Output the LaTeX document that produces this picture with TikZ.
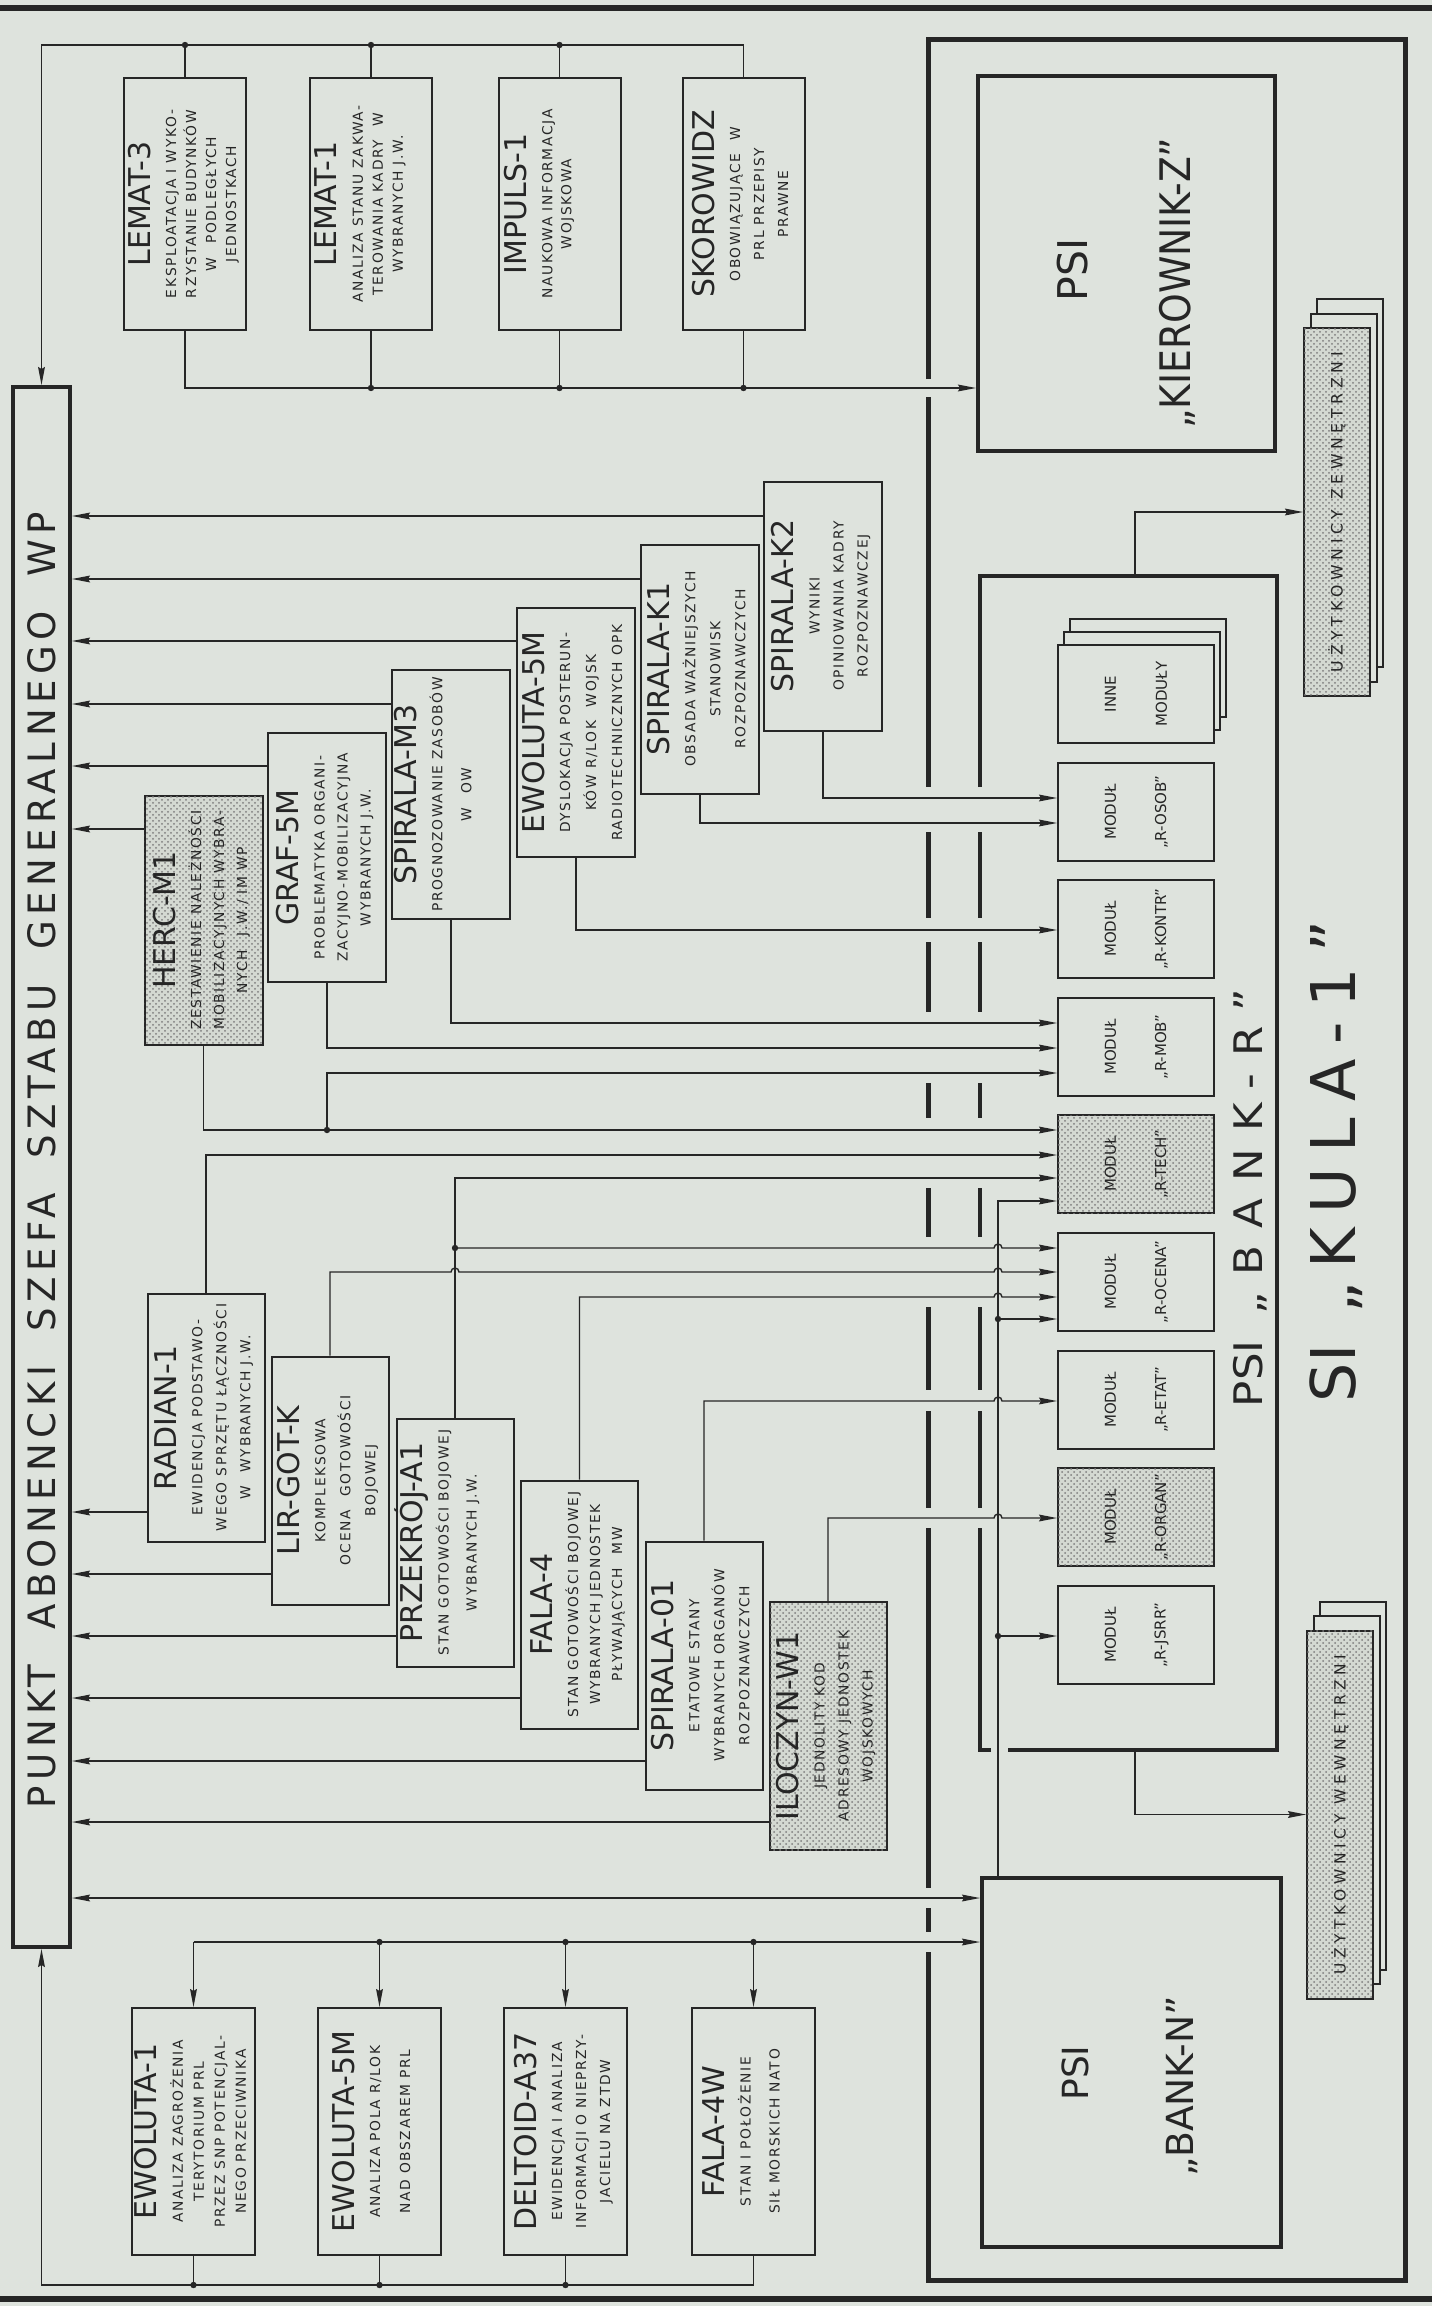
\documentclass[tikz,border=0pt]{standalone}
\usepackage{fontspec}
\usepackage{graphicx}
\setmainfont{DejaVu Sans}
\newfontfamily\ttlf{DejaVu Sans}
\newfontfamily\subf{DejaVu Sans}[LetterSpace=12]
\newfontfamily\spf{DejaVu Sans}[LetterSpace=15]
\usetikzlibrary{arrows.meta,patterns}
\definecolor{bg}{RGB}{222,227,221}
\definecolor{ink}{RGB}{38,38,38}
\definecolor{stip}{RGB}{212,217,210}
\newcommand\bxt[3][12pt]{{\subf\fontsize{6.9pt}{#1}\selectfont\begin{tabular}{@{}c@{}}{\ttlf\fontsize{15pt}{15pt}\selectfont #2}\\[\dimexpr 13pt-#1\relax]#3\end{tabular}}}
\newcommand\modl[3]{\node[lbl,mfnt] (#1-a) at ([xshift=-12.75pt]#1.center) {#2};\node[lbl,mfnt] (#1-b) at ([xshift=12.75pt]#1.center) {#3};}
\begin{document}
\begin{tikzpicture}[x=0.5pt,y=-0.5pt,
  conn/.style={draw=ink, line width=0.7pt},
  arr/.style={conn, -{Stealth[length=9pt,width=3.4pt,inset=1pt]}},
  darr/.style={conn, {Stealth[length=9pt,width=3.4pt,inset=1pt]}-{Stealth[length=9pt,width=3.4pt,inset=1pt]}},
  bx/.style={draw=ink, line width=1pt, fill=bg, inner sep=0pt},
  sbx/.style={bx, fill=stip, postaction={pattern=crosshatch dots, pattern color=ink!60}},
  bbx/.style={bx, line width=2pt},
  lbl/.style={rotate=90, inner sep=0pt, text=ink},
  mfnt/.style={font=\ttlf\fontsize{7.5pt}{7.5pt}\selectfont},
  edge/.style={draw=ink, line width=#1},
  tbx/.style={bx, minimum width=61pt, minimum height=126pt},
  abx/.style={bx, minimum width=59pt, minimum height=124.5pt},
  bbbx/.style={bx, minimum width=58.5pt, minimum height=124pt},
  lbx/.style={bx, minimum width=61.5pt, minimum height=123.5pt},
  mbx/.style={bx, minimum width=78pt, minimum height=49pt},
  ubx/.style={bx, minimum width=33pt, minimum height=184pt}
]
\useasboundingbox (0,0) rectangle (1432,2306);
\fill[bg] (0,0) rectangle (1432,2306);
% page borders
\draw[edge=3pt] (0,8) -- (1432,8);
\draw[edge=3pt] (0,2299) -- (1432,2299);

% frame SI KULA-1 (left edge broken where lines pass)
\draw[edge=2.5pt, line join=miter] (928,379) -- (928,40) -- (1405,40) -- (1405,2280) -- (928,2280) -- (928,1952);
\foreach \a/\b in {397/787, 832/918, 942/1012, 1083/1118, 1188/1237, 1307/1390, 1411/1508, 1528/1888, 1908/1932}
  \draw[edge=2.5pt] (928,\a) -- (928,\b);

% BANK-R box
\node[inner sep=0pt, minimum width=148.5pt, minimum height=587pt] (bankr) at (1128.5,1163) {};
\draw[edge=2pt, line join=miter] (980,787) -- (980,576) -- (1277,576) -- (1277,1750) -- (1008,1750);
\draw[edge=2pt, line join=miter] (991,1750) -- (980,1750) -- (980,1528);
\foreach \a/\b in {832/918, 942/1012, 1083/1118, 1188/1237, 1307/1390, 1411/1508}
  \draw[edge=2pt] (980,\a) -- (980,\b);

% PUNKT box
\node[bbx, minimum width=28.5pt, minimum height=780pt] (punkt) at (41.5,1167) {};
\node[lbl] (punkt-t) at (42,1160) {\resizebox{648pt}{14pt}{\spf\fontsize{19pt}{19pt}\selectfont PUNKT~~ABONENCKI~~SZEFA~~SZTABU~~GENERALNEGO~~WP}};

% big PSI boxes
\node[bbx, minimum width=148.5pt, minimum height=187.5pt] (kier) at (1126.5,263.5) {};
\node[lbl] (kier-a) at (1073,270) {\fontsize{20.5pt}{20.5pt}\selectfont PSI};
\node[lbl] (kier-b) at (1177,283) {\resizebox{145pt}{15.6pt}{\fontsize{20pt}{20pt}\selectfont „KIEROWNIK-Z”}};
\node[bbx, minimum width=149.5pt, minimum height=184.5pt] (bankn) at (1131.5,2062.5) {};
\node[lbl] (bankn-a) at (1075,2073) {\fontsize{18pt}{18pt}\selectfont PSI};
\node[lbl] (bankn-b) at (1182,2086) {\resizebox{90pt}{13.6pt}{\fontsize{18pt}{18pt}\selectfont „BANK-N”}};
\node[lbl] (bankr-t) at (1250,1198) {\resizebox{209pt}{14.6pt}{\fontsize{19pt}{19pt}\selectfont PSI\hspace{0.6em}{\addfontfeature{LetterSpace=40}„BANK-R”}}};
\node[lbl] (kula-t) at (1336,1161) {\resizebox{241pt}{22.9pt}{\fontsize{30pt}{30pt}\selectfont SI\hspace{0.5em}{\addfontfeature{LetterSpace=25}„KULA-1”}}};

% modules
\node[mbx] (inne3) at (1148,668) {};
\node[mbx] (inne2) at (1142,681) {};
\node[mbx] (inne) at (1136,694) {};
\node[mbx] (rosob) at (1136,812) {};
\node[mbx] (rkontr) at (1136,929) {};
\node[mbx] (rmob) at (1136,1047) {};
\node[mbx, sbx] (rtech) at (1136,1164) {};
\node[mbx] (rocena) at (1136,1282) {};
\node[mbx] (retat) at (1136,1400) {};
\node[mbx, sbx] (rorgan) at (1136,1517) {};
\node[mbx] (rjsrr) at (1136,1635) {};
\modl{inne}{INNE}{MODUŁY}
\modl{rosob}{MODUŁ}{„R-OSOB”}
\modl{rkontr}{MODUŁ}{„R-KONTR”}
\modl{rmob}{MODUŁ}{„R-MOB”}
\modl{rtech}{MODUŁ}{„R-TECH”}
\modl{rocena}{MODUŁ}{„R-OCENA”}
\modl{retat}{MODUŁ}{„R-ETAT”}
\modl{rorgan}{MODUŁ}{„R-ORGAN”}
\modl{rjsrr}{MODUŁ}{„R-JSRR”}

% user stacks
\node[ubx] (zewn3) at (1350,483) {};
\node[ubx] (zewn2) at (1343.5,497.5) {};
\node[ubx, sbx] (zewn) at (1337,512) {};
\node[lbl] (zewn-t) at (zewn) {\resizebox{160pt}{!}{\fontsize{7.5pt}{7.5pt}\selectfont\addfontfeature{LetterSpace=30}UŻYTKOWNICY~ZEWNĘTRZNI}};
\node[ubx] (wewn3) at (1353,1785.5) {};
\node[ubx] (wewn2) at (1346.5,1800) {};
\node[ubx, sbx] (wewn) at (1340,1814.5) {};
\node[lbl] (wewn-t) at (wewn) {\resizebox{160pt}{!}{\fontsize{7.5pt}{7.5pt}\selectfont\addfontfeature{LetterSpace=30}UŻYTKOWNICY~WEWNĘTRZNI}};

% top group
\node[tbx] (lemat3) at (185,204) {};
\node[lbl] (lemat3-t) at (lemat3) {\bxt[10pt]{LEMAT-3}{EKSPLOATACJA I WYKO-\\RZYSTANIE BUDYNKÓW\\W\quad PODLEGŁYCH\\JEDNOSTKACH}};
\node[tbx] (lemat1) at (371,204) {};
\node[lbl] (lemat1-t) at ([xshift=-4.5pt]lemat1.center) {\bxt[10pt]{LEMAT-1}{ANALIZA STANU ZAKWA-\\TEROWANIA KADRY\quad W\\WYBRANYCH J.W.}};
\node[tbx] (impuls) at (559.5,204) {};
\node[lbl] (impuls-t) at ([xshift=-9.5pt]impuls.center) {\bxt[9.5pt]{IMPULS-1}{NAUKOWA INFORMACJA\\WOJSKOWA}};
\node[tbx] (skorow) at (743.5,204) {};
\node[lbl] (skorow-t) at (skorow) {\bxt[12pt]{SKOROWIDZ}{OBOWIĄZUJĄCE\quad W\\PRL PRZEPISY\\PRAWNE}};

% group A
\node[abx, sbx] (herc) at (203.5,920) {};
\node[lbl] (herc-t) at (herc) {\bxt[11.5pt]{HERC-M1}{ZESTAWIENIE NALEŻNOŚCI\\MOBILIZACYJNYCH WYBRA-\\NYCH\quad J.W./ IM WP}};
\node[abx] (graf) at (327,857.5) {};
\node[lbl] (graf-t) at (graf) {\bxt[11.5pt]{GRAF-5M}{PROBLEMATYKA ORGANI-\\ZACYJNO-MOBILIZACYJNA\\WYBRANYCH J.W.}};
\node[abx] (spm3) at (451,794.5) {};
\node[lbl] (spm3-t) at ([xshift=-7pt]spm3.center) {\bxt[14.5pt]{SPIRALA-M3}{PROGNOZOWANIE ZASOBÓW\\W\quad OW}};
\node[abx] (ewol5) at (576,732.5) {};
\node[lbl] (ewol5-t) at (ewol5) {\bxt[13pt]{EWOLUTA-5M}{DYSLOKACJA POSTERUN-\\KÓW R/LOK\quad WOJSK\\RADIOTECHNICZNYCH OPK}};
\node[abx] (spk1) at (700,669) {};
\node[lbl] (spk1-t) at (spk1) {\bxt[12.5pt]{SPIRALA-K1}{OBSADA WAŻNIEJSZYCH\\STANOWISK\\ROZPOZNAWCZYCH}};
\node[abx] (spk2) at (823,606) {};
\node[lbl] (spk2-t) at (spk2) {\bxt[12pt]{SPIRALA-K2}{WYNIKI\\OPINIOWANIA KADRY\\ROZPOZNAWCZEJ}};

% group B
\node[bbbx] (radian) at (206,1417.5) {};
\node[lbl] (radian-t) at (radian) {\bxt[12pt]{RADIAN-1}{EWIDENCJA PODSTAWO-\\WEGO SPRZĘTU ŁĄCZNOŚCI\\W\quad WYBRANYCH J.W.}};
\node[bbbx] (lirgot) at (330,1480.5) {};
\node[lbl] (lirgot-t) at (lirgot) {\bxt[12.5pt]{LIR-GOT-K}{KOMPLEKSOWA\\OCENA\quad GOTOWOŚCI\\BOJOWEJ}};
\node[bbbx] (przek) at (455,1542.5) {};
\node[lbl] (przek-t) at ([xshift=-7.5pt]przek.center) {\bxt[14pt]{PRZEKRÓJ-A1}{STAN GOTOWOŚCI BOJOWEJ\\WYBRANYCH J.W.}};
\node[bbbx] (fala4) at (579.5,1604.5) {};
\node[lbl] (fala4-t) at (fala4) {\bxt[11pt]{FALA-4}{STAN GOTOWOŚCI BOJOWEJ\\WYBRANYCH JEDNOSTEK\\PŁYWAJĄCYCH\quad MW}};
\node[bbbx] (spi01) at (704,1665.5) {};
\node[lbl] (spi01-t) at (spi01) {\bxt[12.5pt]{SPIRALA-01}{ETATOWE STANY\\WYBRANYCH ORGANÓW\\ROZPOZNAWCZYCH}};
\node[bbbx, sbx] (iloczyn) at (828,1726) {};
\node[lbl] (iloczyn-t) at (iloczyn) {\bxt[12pt]{ILOCZYN-W1}{JEDNOLITY KOD\\ADRESOWY JEDNOSTEK\\WOJSKOWYCH}};

% bottom group
\node[lbx] (ewol1) at (193.5,2131.5) {};
\node[lbl] (ewol1-t) at (ewol1) {\bxt[10.5pt]{EWOLUTA-1}{ANALIZA ZAGROŻENIA\\TERYTORIUM PRL\\PRZEZ SNP POTENCJAL-\\NEGO PRZECIWNIKA}};
\node[lbx] (ewol5b) at (379.5,2131.5) {};
\node[lbl] (ewol5b-t) at ([xshift=-2pt]ewol5b.center) {\bxt[15pt]{EWOLUTA-5M}{ANALIZA POLA R/LOK\\NAD OBSZAREM PRL}};
\node[lbx] (deltoid) at (565.5,2131.5) {};
\node[lbl] (deltoid-t) at (deltoid) {\bxt[12pt]{DELTOID-A37}{EWIDENCJA I ANALIZA\\INFORMACJI O NIEPRZY-\\JACIELU NA ZTDW}};
\node[lbx] (fala4w) at (753.5,2131.5) {};
\node[lbl] (fala4w-t) at ([xshift=-4pt]fala4w.center) {\bxt[14.5pt]{FALA-4W}{STAN I POŁOŻENIE\\SIŁ MORSKICH NATO}};

\coordinate (v998) at (998,0);
\coordinate (v1135) at (1135,0);

% ---- connectors: top group
\draw[arr] (skorow.north) -- (skorow.north |- 0,45) -| (punkt.north);
\foreach \b in {lemat3,lemat1,impuls} \draw[conn] (\b.north) -- (\b.north |- 0,45);
\draw[arr] (lemat3.south) |- (kier.west |- 0,388);
\foreach \b in {lemat1,impuls,skorow} \draw[conn] (\b.south) -- (\b.south |- 0,388);

% group A to PUNKT
\foreach \b/\y in {spk2/516, spk1/579, ewol5/641, spm3/704, graf/766, herc/829}
  \draw[arr] (\b.west |- 0,\y) -- (punkt.east |- 0,\y);
% group A to modules
\draw[arr] (spk2.south) |- (rosob.west |- 0,798);
\draw[arr] (spk1.south) |- (rosob.west |- 0,823);
\draw[arr] (ewol5.south) |- (rkontr.west |- 0,930);
\draw[arr] (spm3.south) |- (rmob.west |- 0,1023);
\draw[arr] (graf.south) |- (rmob.west |- 0,1048);
\draw[arr] (herc.south) |- (rtech.west |- 0,1130);
\draw[arr] (graf.south |- 0,1130) |- (rmob.west |- 0,1073);

% group B to PUNKT
\foreach \b/\y in {radian/1512, lirgot/1574, przek/1636, fala4/1698, spi01/1761, iloczyn/1822}
  \draw[arr] (\b.west |- 0,\y) -- (punkt.east |- 0,\y);
% group B to modules
\draw[arr] (radian.north) |- (rtech.west |- 0,1155);
\draw[arr] (przek.north) |- (rtech.west |- 0,1178);
\draw[arr] (przek.north |- 0,1248) -- (994,1248) arc[start angle=180,end angle=0,radius=2pt] -- (rocena.west |- 0,1248);
\draw[arr] (lirgot.north) |- (451,1272) arc[start angle=180,end angle=0,radius=2pt] -- (994,1272) arc[start angle=180,end angle=0,radius=2pt] -- (rocena.west |- 0,1272);
\draw[arr] (fala4.north) |- (994,1297) arc[start angle=180,end angle=0,radius=2pt] -- (rocena.west |- 0,1297);
\draw[arr] (spi01.north) |- (994,1401) arc[start angle=180,end angle=0,radius=2pt] -- (retat.west |- 0,1401);
\draw[arr] (iloczyn.north) |- (994,1518) arc[start angle=180,end angle=0,radius=2pt] -- (rorgan.west |- 0,1518);
% BANK-N feed into BANK-R modules
\draw[arr] (bankn.north -| v998) |- (rtech.west |- 0,1201);
\draw[arr] (v998 |- 0,1319) -- (rocena.west |- 0,1319);
\draw[arr] (v998 |- 0,1636) -- (rjsrr.west |- 0,1636);

% users
\draw[arr] (bankr.north -| v1135) |- (zewn.west);
\draw[arr] (bankr.south -| v1135) |- (wewn.west);

% bottom
\draw[darr] (punkt.east |- 0,1898) -- (bankn.west |- 0,1898);
\draw[arr] (ewol1.north |- 0,1942) -- (bankn.west |- 0,1942);
\foreach \b in {ewol1,ewol5b,deltoid,fala4w} \draw[arr] (\b.north |- 0,1942) -- (\b.north);
\draw[arr] (fala4w.south) |- (punkt.south |- 0,2285) -- (punkt.south);
\foreach \b in {ewol1,ewol5b,deltoid} \draw[conn] (\b.south) -- (\b.south |- 0,2285);

% junction dots
\foreach \b in {lemat3,lemat1,impuls} \fill[ink] (\b.north |- 0,45) circle[radius=1.6pt];
\foreach \b in {lemat1,impuls,skorow} \fill[ink] (\b.south |- 0,388) circle[radius=1.6pt];
\foreach \b in {ewol5b,deltoid,fala4w} \fill[ink] (\b.north |- 0,1942) circle[radius=1.6pt];
\foreach \b in {ewol1,ewol5b,deltoid} \fill[ink] (\b.south |- 0,2285) circle[radius=1.6pt];
\fill[ink] (graf.south |- 0,1130) circle[radius=1.6pt];
\fill[ink] (przek.north |- 0,1248) circle[radius=1.6pt];
\fill[ink] (v998 |- 0,1319) circle[radius=1.6pt];
\fill[ink] (v998 |- 0,1636) circle[radius=1.6pt];
\end{tikzpicture}
\end{document}
